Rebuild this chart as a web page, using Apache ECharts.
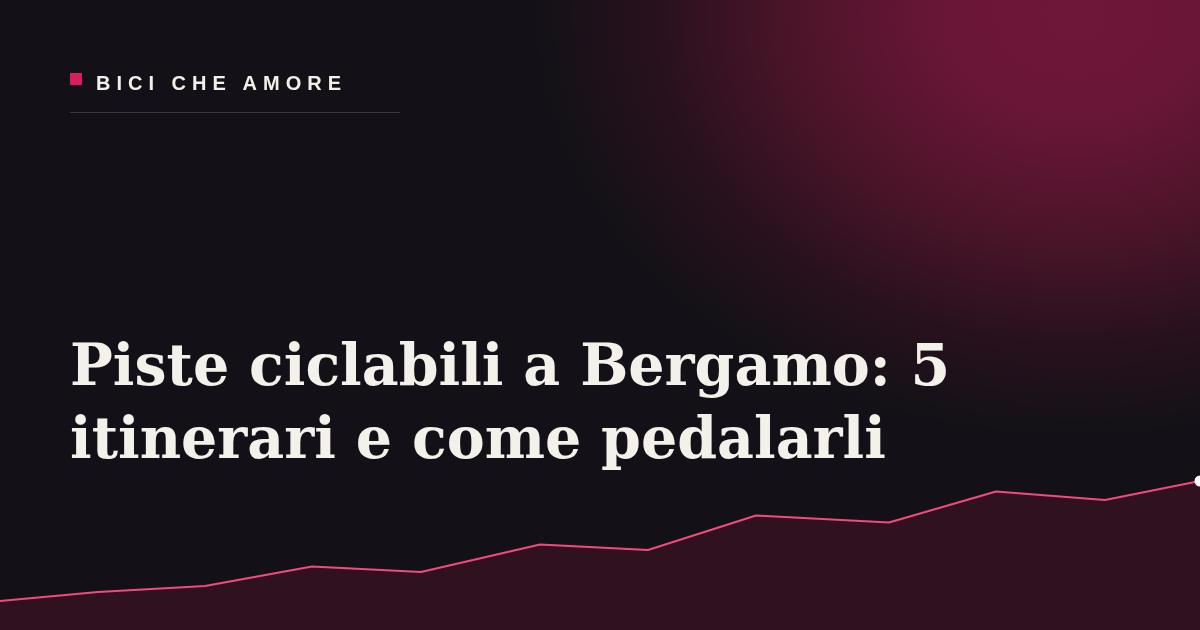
<!DOCTYPE html>
<html>
<head>
<meta charset="utf-8">
<script src="https://cdn.jsdelivr.net/npm/echarts@6/dist/echarts.min.js"></script>
<style>
  html, body { margin: 0; padding: 0; }
  body {
    width: 1200px; height: 630px; overflow: hidden; position: relative;
    background-color: #131117;
    background-image: radial-gradient(ellipse 540px 420px at 1075px 15px,
      #6e1739 0%, #6a1637 24%, #4c1429 52%, #28111e 78%, rgba(19,17,23,0) 100%);
  }
  #chart { position: absolute; left: 0; top: 0; width: 1200px; height: 630px; }
  .kicker {
    position: absolute; left: 96px; top: 73px;
    font: 700 20px/20px "Liberation Sans", Arial, sans-serif;
    letter-spacing: 6px; color: #f3efe9;
  }
</style>
</head>
<body>
<div id="chart"></div>
<div class="kicker">BICI CHE AMORE</div>
<script>
// profilo della linea decorativa in basso
const distanze = [0, 98, 205, 312, 421, 540, 648, 756, 889, 996, 1105, 1200];
const quote = [29, 38, 44, 63.5, 58, 85.5, 80, 114.5, 107.5, 138.5, 130, 149];
const titolo = 'Piste ciclabili a Bergamo: 5\nitinerari e come pedalarli';

const chart = echarts.init(document.getElementById('chart'), null, { renderer: 'canvas' });

const punti = distanze.map((d, i) => {
  if (i === distanze.length - 1) {
    return { value: [d, quote[i]], symbol: 'circle', symbolSize: 11, itemStyle: { color: '#ffffff' } };
  }
  return [d, quote[i]];
});

chart.setOption({
  backgroundColor: 'transparent',
  animation: false,
  grid: { left: 0, right: 0, top: 470, bottom: 0 },
  xAxis: { type: 'value', min: 0, max: 1200, show: false },
  yAxis: { type: 'value', min: 0, max: 160, show: false },
  graphic: [
    { type: 'rect', shape: { x: 70, y: 73, width: 12, height: 12 }, style: { fill: '#d81e5b' } },
    { type: 'line', shape: { x1: 70, y1: 112.5, x2: 400, y2: 112.5 }, style: { stroke: '#3a383e', lineWidth: 1 } },
    {
      type: 'text', x: 70, y: 334,
      style: {
        text: titolo, fill: '#f4f0ea',
        font: 'bold 57px "DejaVu Serif", serif',
        lineHeight: 73, verticalAlign: 'top'
      }
    }
  ],
  series: [{
    type: 'line',
    data: punti,
    symbol: 'none',
    clip: false,
    lineStyle: { color: '#f24a7c', width: 2 },
    areaStyle: { color: '#2f1120', opacity: 1 }
  }]
});
</script>
</body>
</html>
